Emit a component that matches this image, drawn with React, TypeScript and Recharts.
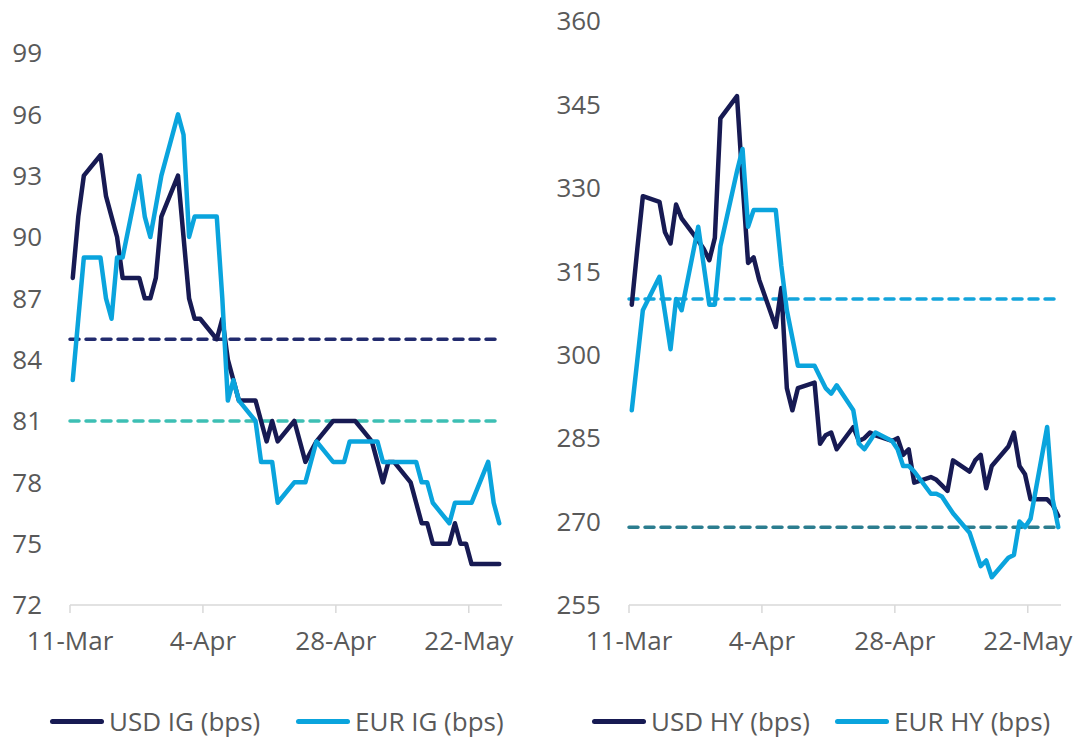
import React from "react";
import { LineChart, Line, XAxis, YAxis, ReferenceLine } from "recharts";

// business days, 11-Mar to 27-May
const dates = [
  "2026-03-11", "2026-03-12", "2026-03-13",
  "2026-03-16", "2026-03-17", "2026-03-18", "2026-03-19", "2026-03-20",
  "2026-03-23", "2026-03-24", "2026-03-25", "2026-03-26", "2026-03-27",
  "2026-03-30", "2026-03-31", "2026-04-01", "2026-04-02", "2026-04-03",
  "2026-04-06", "2026-04-07", "2026-04-08", "2026-04-09", "2026-04-10",
  "2026-04-13", "2026-04-14", "2026-04-15", "2026-04-16", "2026-04-17",
  "2026-04-20", "2026-04-21", "2026-04-22", "2026-04-23", "2026-04-24",
  "2026-04-27", "2026-04-28", "2026-04-29", "2026-04-30", "2026-05-01",
  "2026-05-04", "2026-05-05", "2026-05-06", "2026-05-07", "2026-05-08",
  "2026-05-11", "2026-05-12", "2026-05-13", "2026-05-14", "2026-05-15",
  "2026-05-18", "2026-05-19", "2026-05-20", "2026-05-21", "2026-05-22",
  "2026-05-25", "2026-05-26", "2026-05-27",
];

const usdIG = [
  88, 91, 93,
  94, 92, 91, 90, 88,
  88, 87, 87, 88, 91,
  93, 90, 87, 86, 86,
  85, 86, 84, 83, 82,
  82, 81, 80, 81, 80,
  81, 80, 79, 79.5, 80,
  81, 81, 81, 81, 81,
  80, 79, 78, 79, 79,
  78, 77, 76, 76, 75,
  75, 76, 75, 75, 74,
  74, 74, 74,
];

const eurIG = [
  83, 86, 89,
  89, 87, 86, 89, 89,
  93, 91, 90, 91.5, 93,
  96, 95, 90, 91, 91,
  91, 87, 82, 83, 82,
  81, 79, 79, 79, 77,
  78, 78, 78, 79, 80,
  79, 79, 79, 80, 80,
  80, 80, 79, 79, 79,
  79, 79, 78, 78, 77,
  76, 77, 77, 77, 77,
  79, 77, 76,
];

const usdHY = [
  309, 319, 328.5,
  327.5, 322, 320, 327, 324.5,
  320.5, 319, 317, 321, 342.5,
  346.5, 331, 316.5, 317.5, 313.5,
  305, 312, 294, 290, 294,
  295, 284, 285.5, 286, 283,
  287, 284.5, 285, 286, 285.5,
  284.5, 285, 282, 283, 277,
  278, 277.5, 276.5, 275.5, 281,
  279, 281, 282, 276, 280,
  283.5, 286, 280, 278.5, 274,
  274, 273, 271,
];

const eurHY = [
  290, 299, 308,
  314, 307.5, 301, 310, 308,
  323, 316, 309, 309, 319.5,
  333, 337, 323, 326, 326,
  326, 316, 308, 303, 298,
  298, 296, 294, 293, 294.5,
  290, 284, 283, 284.5, 286,
  284.5, 283, 280, 280, 279,
  275, 275, 274.5, 273, 271.5,
  268, 265, 262, 263, 260,
  263.5, 264, 270, 269, 270.5,
  287, 274, 269,
];

const xTicks = [0, 24, 48, 72];
const xTickLabels = ["11-Mar", "4-Apr", "28-Apr", "22-May"];
const igTicks = [72, 75, 78, 81, 84, 87, 90, 93, 96, 99];
const hyTicks = [255, 270, 285, 300, 315, 330, 345, 360];

// average / reference levels (dashed)
const igRefs = [
  { y: 85, color: "#222b6e" },
  { y: 81, color: "#3dbfb4" },
];
const hyRefs = [
  { y: 310, color: "#14a5dc" },
  { y: 269, color: "#2b7d8f" },
];

const NAVY = "#171a53";
const BLUE = "#0aa4dd";
const FONT = "'Open Sans', sans-serif";
const TEXT = "#595959";
const AXIS = "#d9d9d9";

const DAY = 86400000;
const t0 = Date.parse(dates[0]);
// Excel date axis "between tick marks": each day is a slot, point at its middle
const day = (d: string) => (Date.parse(d) - t0) / DAY + 0.5;

const igData = dates.map((d, i) => ({ x: day(d), usd: usdIG[i], eur: eurIG[i] }));
const hyData = dates.map((d, i) => ({ x: day(d), usd: usdHY[i], eur: eurHY[i] }));

const TICK = { fontSize: 26, fill: TEXT, fontFamily: FONT };

function Panel({
  data,
  yTicks,
  refs,
  top,
  yWidth,
  right,
}: {
  data: { x: number; usd: number; eur: number }[];
  yTicks: number[];
  refs: { y: number; color: string }[];
  top: number;
  yWidth: number;
  right: number;
}) {
  return (
    <LineChart
      width={541}
      height={739}
      data={data}
      margin={{ top, right, bottom: 0, left: 0 }}
    >
      <XAxis
        dataKey="x"
        type="number"
        domain={[0, 78]}
        ticks={xTicks}
        tickFormatter={(v) => xTickLabels[xTicks.indexOf(v)] ?? ""}
        tick={TICK}
        height={134}
        tickSize={8}
        tickMargin={19}
        axisLine={{ stroke: AXIS, strokeWidth: 1.5 }}
        tickLine={{ stroke: AXIS, strokeWidth: 1.5 }}
        interval={0}
      />
      <YAxis
        type="number"
        domain={[yTicks[0], yTicks[yTicks.length - 1]]}
        ticks={yTicks}
        tick={TICK}
        width={yWidth}
        axisLine={false}
        tickLine={false}
        tickSize={0}
        tickMargin={28}
        interval={0}
      />
      {refs.map((r) => (
        <ReferenceLine
          key={r.y}
          y={r.y}
          stroke={r.color}
          strokeWidth={3.5}
          strokeDasharray="9 7"
          strokeLinecap="round"
        />
      ))}
      <Line
        type="linear"
        dataKey="usd"
        stroke={NAVY}
        strokeWidth={4.5}
        strokeLinejoin="round"
        strokeLinecap="round"
        dot={false}
        isAnimationActive={false}
      />
      <Line
        type="linear"
        dataKey="eur"
        stroke={BLUE}
        strokeWidth={4.5}
        strokeLinejoin="round"
        strokeLinecap="round"
        dot={false}
        isAnimationActive={false}
      />
    </LineChart>
  );
}

function LegendItem({ x, color, label }: { x: number; color: string; label: string }) {
  return (
    <div
      style={{
        position: "absolute",
        left: x,
        top: 706,
        height: 30,
        display: "flex",
        alignItems: "center",
        fontFamily: FONT,
        fontSize: 26,
        lineHeight: "30px",
        color: TEXT,
        whiteSpace: "nowrap",
      }}
    >
      <span
        style={{
          display: "inline-block",
          width: 54,
          height: 5,
          borderRadius: 3,
          background: color,
          marginRight: 5,
        }}
      />
      <span>{label}</span>
    </div>
  );
}

export default function App() {
  return (
    <div
      style={{
        position: "absolute",
        left: 0,
        top: 0,
        width: 1082,
        height: 739,
        background: "#fff",
        overflow: "hidden",
      }}
    >
      <div style={{ position: "absolute", left: 0, top: 0 }}>
        <Panel data={igData} yTicks={igTicks} refs={igRefs} top={53} yWidth={70} right={39} />
      </div>
      <div style={{ position: "absolute", left: 541, top: 0 }}>
        <Panel data={hyData} yTicks={hyTicks} refs={hyRefs} top={21} yWidth={88} right={21} />
      </div>
      <LegendItem x={50} color={NAVY} label="USD IG (bps)" />
      <LegendItem x={296} color={BLUE} label="EUR IG (bps)" />
      <LegendItem x={592} color={NAVY} label="USD HY (bps)" />
      <LegendItem x={835} color={BLUE} label="EUR HY (bps)" />
    </div>
  );
}
